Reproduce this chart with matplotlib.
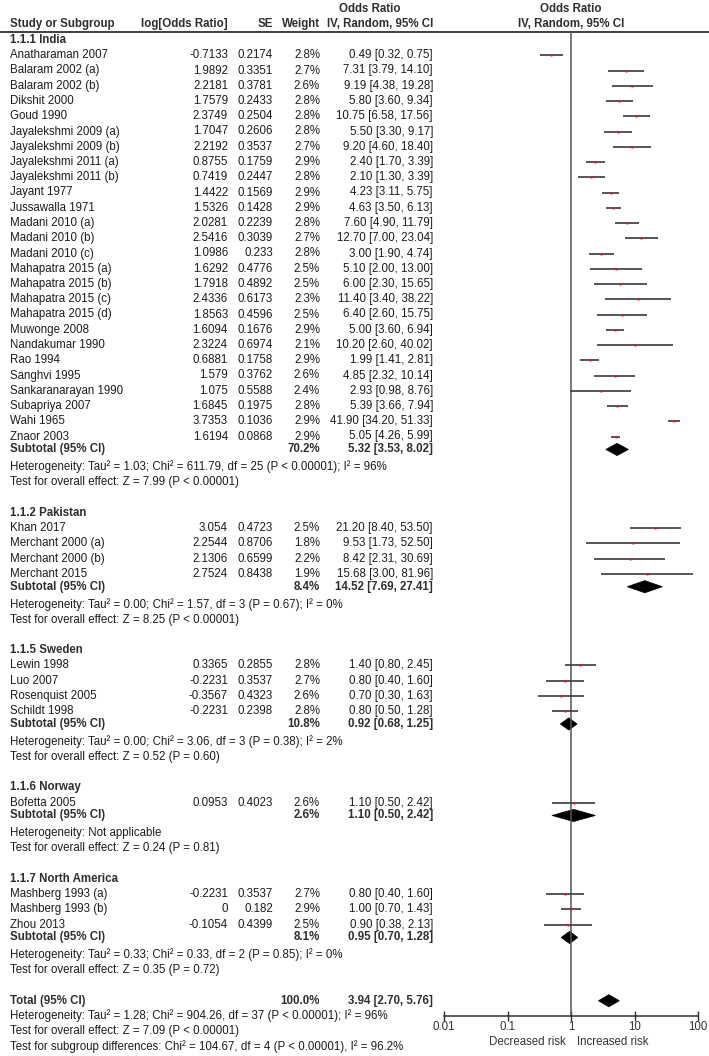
import matplotlib
matplotlib.use("Agg")
import matplotlib.pyplot as plt
import matplotlib.transforms as mtransforms
from matplotlib.patches import Polygon

plt.rcParams['font.family'] = ['Liberation Sans', 'DejaVu Sans']

######### data ##########

group_names = ["1.1.1 India", "1.1.2 Pakistan", "1.1.5 Sweden", "1.1.6 Norway", "1.1.7 North America"]

study_names = [
    "Anatharaman 2007", "Balaram 2002 (a)", "Balaram 2002 (b)", "Dikshit 2000", "Goud 1990",
    "Jayalekshmi 2009 (a)", "Jayalekshmi 2009 (b)", "Jayalekshmi 2011 (a)", "Jayalekshmi 2011 (b)",
    "Jayant 1977", "Jussawalla 1971", "Madani 2010 (a)", "Madani 2010 (b)", "Madani 2010 (c)",
    "Mahapatra 2015 (a)", "Mahapatra 2015 (b)", "Mahapatra 2015 (c)", "Mahapatra 2015 (d)",
    "Muwonge 2008", "Nandakumar 1990", "Rao 1994", "Sanghvi 1995", "Sankaranarayan 1990",
    "Subapriya 2007", "Wahi 1965", "Znaor 2003",
    "Khan 2017", "Merchant 2000 (a)", "Merchant 2000 (b)", "Merchant 2015",
    "Lewin 1998", "Luo 2007", "Rosenquist 2005", "Schildt 1998",
    "Bofetta 2005",
    "Mashberg 1993 (a)", "Mashberg 1993 (b)", "Zhou 2013",
]
study_group = [0] * 26 + [1] * 4 + [2] * 4 + [3] + [4] * 3

log_or = [-0.7133, 1.9892, 2.2181, 1.7579, 2.3749, 1.7047, 2.2192, 0.8755, 0.7419, 1.4422,
          1.5326, 2.0281, 2.5416, 1.0986, 1.6292, 1.7918, 2.4336, 1.8563, 1.6094, 2.3224,
          0.6881, 1.579, 1.075, 1.6845, 3.7353, 1.6194,
          3.054, 2.2544, 2.1306, 2.7524,
          0.3365, -0.2231, -0.3567, -0.2231,
          0.0953,
          -0.2231, 0, -0.1054]
se = [0.2174, 0.3351, 0.3781, 0.2433, 0.2504, 0.2606, 0.3537, 0.1759, 0.2447, 0.1569,
      0.1428, 0.2239, 0.3039, 0.233, 0.4776, 0.4892, 0.6173, 0.4596, 0.1676, 0.6974,
      0.1758, 0.3762, 0.5588, 0.1975, 0.1036, 0.0868,
      0.4723, 0.8706, 0.6599, 0.8438,
      0.2855, 0.3537, 0.4323, 0.2398,
      0.4023,
      0.3537, 0.182, 0.4399]
weight = [2.8, 2.7, 2.6, 2.8, 2.8, 2.8, 2.7, 2.9, 2.8, 2.9,
          2.9, 2.8, 2.7, 2.8, 2.5, 2.5, 2.3, 2.5, 2.9, 2.1,
          2.9, 2.6, 2.4, 2.8, 2.9, 2.9,
          2.5, 1.8, 2.2, 1.9,
          2.8, 2.7, 2.6, 2.8,
          2.6,
          2.7, 2.9, 2.5]
odds = [0.49, 7.31, 9.19, 5.80, 10.75, 5.50, 9.20, 2.40, 2.10, 4.23,
        4.63, 7.60, 12.70, 3.00, 5.10, 6.00, 11.40, 6.40, 5.00, 10.20,
        1.99, 4.85, 2.93, 5.39, 41.90, 5.05,
        21.20, 9.53, 8.42, 15.68,
        1.40, 0.80, 0.70, 0.80,
        1.10,
        0.80, 1.00, 0.90]
ci_lo = [0.32, 3.79, 4.38, 3.60, 6.58, 3.30, 4.60, 1.70, 1.30, 3.11,
         3.50, 4.90, 7.00, 1.90, 2.00, 2.30, 3.40, 2.60, 3.60, 2.60,
         1.41, 2.32, 0.98, 3.66, 34.20, 4.26,
         8.40, 1.73, 2.31, 3.00,
         0.80, 0.40, 0.30, 0.50,
         0.50,
         0.40, 0.70, 0.38]
ci_hi = [0.75, 14.10, 19.28, 9.34, 17.56, 9.17, 18.40, 3.39, 3.39, 5.75,
         6.13, 11.79, 23.04, 4.74, 13.00, 15.65, 38.22, 15.75, 6.94, 40.02,
         2.81, 10.14, 8.76, 7.94, 51.33, 5.99,
         53.50, 52.50, 30.69, 81.96,
         2.45, 1.60, 1.63, 1.28,
         2.42,
         1.60, 1.43, 2.13]

sub_weight = [70.2, 8.4, 10.8, 2.6, 8.1]
sub_or = [5.32, 14.52, 0.92, 1.10, 0.95]
sub_lo = [3.53, 7.69, 0.68, 0.50, 0.70]
sub_hi = [8.02, 27.41, 1.25, 2.42, 1.28]
sub_het = [
    "Heterogeneity: Tau\u00b2 = 1.03; Chi\u00b2 = 611.79, df = 25 (P < 0.00001); I\u00b2 = 96%",
    "Heterogeneity: Tau\u00b2 = 0.00; Chi\u00b2 = 1.57, df = 3 (P = 0.67); I\u00b2 = 0%",
    "Heterogeneity: Tau\u00b2 = 0.00; Chi\u00b2 = 3.06, df = 3 (P = 0.38); I\u00b2 = 2%",
    "Heterogeneity: Not applicable",
    "Heterogeneity: Tau\u00b2 = 0.33; Chi\u00b2 = 0.33, df = 2 (P = 0.85); I\u00b2 = 0%",
]
sub_z = [
    "Test for overall effect: Z = 7.99 (P < 0.00001)",
    "Test for overall effect: Z = 8.25 (P < 0.00001)",
    "Test for overall effect: Z = 0.52 (P = 0.60)",
    "Test for overall effect: Z = 0.24 (P = 0.81)",
    "Test for overall effect: Z = 0.35 (P = 0.72)",
]

total_weight = 100.0
total_or = 3.94
total_lo = 2.70
total_hi = 5.76
total_notes = [
    "Heterogeneity: Tau\u00b2 = 1.28; Chi\u00b2 = 904.26, df = 37 (P < 0.00001); I\u00b2 = 96%",
    "Test for overall effect: Z = 7.09 (P < 0.00001)",
    "Test for subgroup differences: Chi\u00b2 = 104.67, df = 4 (P < 0.00001), I\u00b2 = 96.2%",
]

axis_ticks = [0.01, 0.1, 1, 10, 100]
axis_ticklabels = ["0.01", "0.1", "1", "10", "100"]

######### layout ##########

W, H = 709, 1056
Y0, PITCH = 40, 15.25


def row_of(px):
    return (px - Y0) / PITCH


fig = plt.figure(figsize=(W / 100, H / 100), dpi=100)
ax = fig.add_axes([0, 0, 1, 1])
ax.set_xlim(0, W)
ax.set_ylim(row_of(H), row_of(0))
ax.axis("off")

x_name, x_lor, x_se, x_w, x_ci = 10, 228, 273, 320, 433
FS = 8.3
TC = "#1c1c1c"
HC = "#2e2e2e"

# forest axes
fx0, fx1 = 444, 698
fy_top, fy_bot = 32, 1016
axf = fig.add_axes([fx0 / W, 1 - fy_bot / H, (fx1 - fx0) / W, (fy_bot - fy_top) / H])
axf.set_xscale("log")
axf.set_xlim(0.01, 100)
axf.set_ylim(row_of(fy_bot), row_of(fy_top))
axf.patch.set_alpha(0)
for s in ["top", "left", "right"]:
    axf.spines[s].set_visible(False)
axf.spines["bottom"].set_color("#303030")
axf.spines["bottom"].set_linewidth(1.1)
axf.set_yticks([])
axf.set_xticks(axis_ticks)
axf.set_xticklabels(axis_ticklabels)
axf.minorticks_off()
axf.tick_params(axis="x", direction="inout", length=7, width=1, color="#303030",
                labelsize=FS, labelcolor="#333333", pad=0)
axf.axvline(1, color="#555555", lw=1.1)

# header
ax.text(x_name, row_of(24), "Study or Subgroup", fontsize=FS, fontweight="bold", color=HC, va="center")
ax.text(x_lor, row_of(24), "log[Odds Ratio]", fontsize=FS, fontweight="bold", color=HC, va="center", ha="right")
ax.text(x_se, row_of(24), "SE", fontsize=FS, fontweight="bold", color=HC, va="center", ha="right")
ax.text(x_w, row_of(24), "Weight", fontsize=FS, fontweight="bold", color=HC, va="center", ha="right")
ax.text(339, row_of(9), "Odds Ratio", fontsize=FS, fontweight="bold", color=HC, va="center")
ax.text(x_ci, row_of(24), "IV, Random, 95% CI", fontsize=FS, fontweight="bold", color=HC, va="center", ha="right")
ax.text(571, row_of(9), "Odds Ratio", fontsize=FS, fontweight="bold", color=HC, va="center", ha="center")
ax.text(571, row_of(24), "IV, Random, 95% CI", fontsize=FS, fontweight="bold", color=HC, va="center", ha="center")
ax.axhline(row_of(32), color="#303030", lw=1.3)


def diamond(y, c, lo, hi, h=0.4):
    axf.add_patch(Polygon([(lo, y), (c, y - h), (hi, y), (c, y + h)], closed=True,
                          facecolor="black", edgecolor="black", lw=0.5))


r = 0
for g, gname in enumerate(group_names):
    ax.text(x_name, r, gname, fontsize=FS, fontweight="bold", color=HC, va="center")
    r += 1
    for i in range(len(study_names)):
        if study_group[i] != g:
            continue
        ax.text(x_name, r, study_names[i], fontsize=FS, color=TC, va="center")
        ax.text(x_lor, r, "{:g}".format(log_or[i]), fontsize=FS, color=TC, va="center", ha="right")
        ax.text(x_se, r, "{:g}".format(se[i]), fontsize=FS, color=TC, va="center", ha="right")
        ax.text(x_w, r, "{:.1f}%".format(weight[i]), fontsize=FS, color=TC, va="center", ha="right")
        ax.text(x_ci, r, "{:.2f} [{:.2f}, {:.2f}]".format(odds[i], ci_lo[i], ci_hi[i]),
                fontsize=FS, color=TC, va="center", ha="right")
        axf.plot([ci_lo[i], ci_hi[i]], [r, r], color="#3a3a3a", lw=1.2, solid_capstyle="butt")
        axf.plot(odds[i], r, marker="s", ms=2.1, color="#f0101a", mec="none", zorder=3)
        r += 1
    rs = r - 0.15
    ax.text(x_name, rs, "Subtotal (95% CI)", fontsize=FS, fontweight="bold", color=HC, va="center")
    ax.text(x_w, rs, "{:.1f}%".format(sub_weight[g]), fontsize=FS, fontweight="bold", color=HC, va="center", ha="right")
    ax.text(x_ci, rs, "{:.2f} [{:.2f}, {:.2f}]".format(sub_or[g], sub_lo[g], sub_hi[g]),
            fontsize=FS, fontweight="bold", color=HC, va="center", ha="right")
    diamond(rs, sub_or[g], sub_lo[g], sub_hi[g])
    r += 1
    ax.text(x_name, r, sub_het[g], fontsize=FS, color=TC, va="center")
    r += 1
    ax.text(x_name, r, sub_z[g], fontsize=FS, color=TC, va="center")
    r += 2

ax.text(x_name, r, "Total (95% CI)", fontsize=FS, fontweight="bold", color=HC, va="center")
ax.text(x_w, r, "{:.1f}%".format(total_weight), fontsize=FS, fontweight="bold", color=HC, va="center", ha="right")
ax.text(x_ci, r, "{:.2f} [{:.2f}, {:.2f}]".format(total_or, total_lo, total_hi),
        fontsize=FS, fontweight="bold", color=HC, va="center", ha="right")
diamond(r, total_or, total_lo, total_hi)
for note in total_notes:
    r += 1
    ax.text(x_name, r, note, fontsize=FS, color=TC, va="center")

trans = mtransforms.blended_transform_factory(axf.transData, axf.transAxes)
axf.annotate("Decreased risk", xy=(1, 0), xycoords=trans, xytext=(-4, -19), textcoords="offset points",
             ha="right", va="center", fontsize=FS, color="#333333")
axf.annotate("Increased risk", xy=(1, 0), xycoords=trans, xytext=(4, -19), textcoords="offset points",
             ha="left", va="center", fontsize=FS, color="#333333")

fig.savefig("out.png", dpi=100)
